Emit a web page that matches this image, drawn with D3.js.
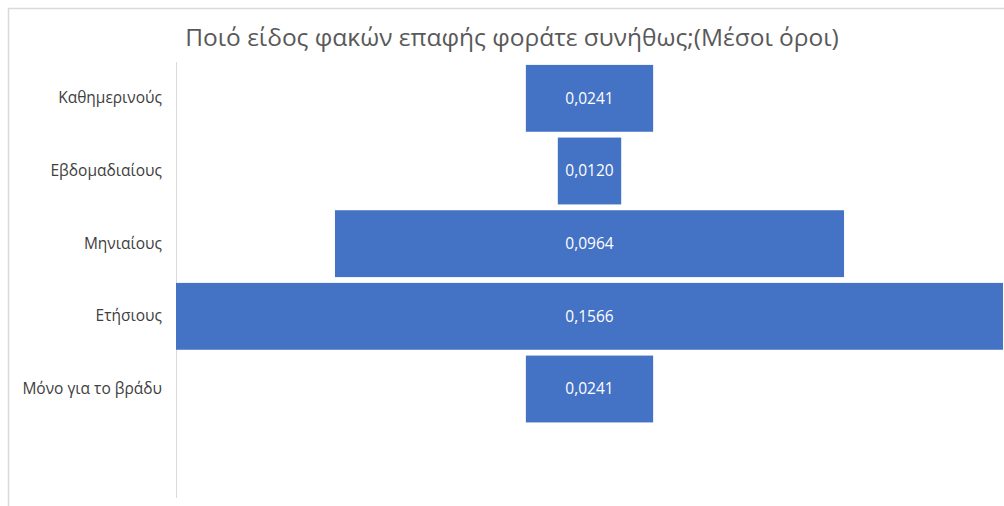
<!DOCTYPE html>
<html>
<head>
<meta charset="utf-8">
<script src="https://cdn.jsdelivr.net/npm/d3@7"></script>
<style>
  html, body { margin: 0; padding: 0; background: #fff; }
  svg { display: block; }
</style>
</head>
<body>
<svg id="chart" width="1004" height="506"></svg>
<script>
// Contact lens types (average values), shown as a centred funnel
const categories = ["Καθημερινούς", "Εβδομαδιαίους", "Μηνιαίους", "Ετήσιους", "Μόνο για το βράδυ"];
const values = [0.0241, 0.0120, 0.0964, 0.1566, 0.0241];
const valueLabels = ["0,0241", "0,0120", "0,0964", "0,1566", "0,0241"];
const title = "Ποιό είδος φακών επαφής φοράτε συνήθως;(Μέσοι όροι)";

const svg = d3.select("#chart");
const W = 1004, H = 506;
const plot = { left: 176, right: 1003, top: 62, bottom: 498 };
const font = "'Open Sans', 'Liberation Sans', sans-serif";

// chart frame
svg.append("path")
  .attr("d", `M8.5,${H} V8.5 H${W}`)
  .attr("fill", "none")
  .attr("stroke", "#d9d9d9")
  .attr("stroke-width", 1.5);

// title
svg.append("text")
  .attr("x", 512)
  .attr("y", 46)
  .attr("text-anchor", "middle")
  .attr("font-family", font)
  .attr("font-size", 24.5)
  .attr("fill", "#595959")
  .text(title);

// band scale with one empty slot below the last category
const y = d3.scaleBand()
  .domain(categories.concat([""]))
  .range([plot.top, plot.bottom])
  .paddingInner(0.08)
  .paddingOuter(0.04);

const w = d3.scaleLinear()
  .domain([0, d3.max(values)])
  .range([0, plot.right - plot.left]);

const cx = (plot.left + plot.right) / 2;

// vertical category axis
const axis = d3.axisLeft(y).tickSize(0).tickPadding(14)
  .tickValues(categories);
const gAxis = svg.append("g")
  .attr("transform", `translate(${plot.left},0)`)
  .call(axis);
gAxis.select(".domain")
  .attr("d", `M0.5,${plot.top}V${plot.bottom}`)
  .attr("stroke", "#d9d9d9");
gAxis.selectAll("text")
  .attr("font-family", font)
  .attr("font-size", 15.5)
  .attr("fill", "#404040");

// funnel bars
const data = categories.map((c, i) => ({ c, v: values[i], label: valueLabels[i] }));

svg.append("g").selectAll("rect")
  .data(data)
  .join("rect")
  .attr("x", d => cx - w(d.v) / 2)
  .attr("y", d => y(d.c))
  .attr("width", d => w(d.v))
  .attr("height", y.bandwidth())
  .attr("fill", "#4472c4");

// value labels
svg.append("g").selectAll("text")
  .data(data)
  .join("text")
  .attr("x", cx)
  .attr("y", d => y(d.c) + y.bandwidth() / 2)
  .attr("dy", "0.35em")
  .attr("text-anchor", "middle")
  .attr("font-family", font)
  .attr("font-size", 15.5)
  .attr("fill", "#ffffff")
  .text(d => d.label);
</script>
</body>
</html>
